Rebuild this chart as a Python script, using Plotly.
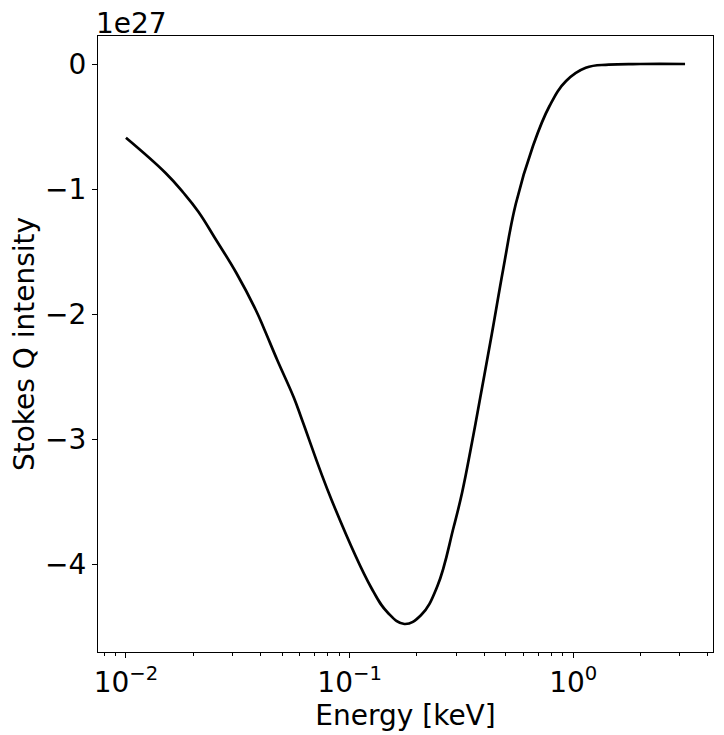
import plotly.graph_objects as go

# Energy in keV
energy_kev = [0.01000, 0.01500, 0.01807, 0.02104, 0.02535, 0.03112, 0.03811,
              0.04150, 0.04753, 0.05636, 0.06138, 0.08318, 0.1250, 0.1483,
              0.1758, 0.2084, 0.2466, 0.2924, 0.3184, 0.3524, 0.3811, 0.4325,
              0.4864, 0.5534, 0.6607, 0.7834, 0.9290, 1.138, 1.442, 1.995, 3.162]
# Stokes Q intensity in units of 1e27
stokes_q_1e27 = [-0.59, -0.87, -1.03, -1.18, -1.41, -1.67, -1.97,
                 -2.12, -2.37, -2.67, -2.85, -3.49, -4.19, -4.39,
                 -4.48, -4.41, -4.18, -3.70, -3.43, -3.03, -2.70, -2.16,
                 -1.64, -1.12, -0.656, -0.336, -0.136, -0.03, -0.005, 0.0, 0.0]
scale_label = "1e27"

x_tickvals = [0.01, 0.1, 1.0]
x_ticktext = ["10<sup>\u22122</sup>", "10<sup>\u22121</sup>", "10<sup>0</sup>"]
x_minor_tickvals = [0.008, 0.009,
                    0.02, 0.03, 0.04, 0.05, 0.06, 0.07, 0.08, 0.09,
                    0.2, 0.3, 0.4, 0.5, 0.6, 0.7, 0.8, 0.9,
                    2, 3, 4]
y_tickvals = [0, -1, -2, -3, -4]
y_ticktext = ["0", "\u22121", "\u22122", "\u22123", "\u22124"]

FONT = "DejaVu Sans"
FS = 28

fig = go.Figure()
fig.add_trace(go.Scatter(
    x=energy_kev, y=stokes_q_1e27, mode="lines",
    line=dict(color="black", width=2.7, shape="spline", smoothing=1.2),
    showlegend=False,
))

fig.update_layout(
    width=716, height=727,
    margin=dict(l=87, r=10, t=28, b=83),
    paper_bgcolor="white", plot_bgcolor="white",
    font=dict(family=FONT, size=FS, color="black"),
)
fig.update_xaxes(
    type="log", range=[-2.125, 0.625],
    tickvals=x_tickvals, ticktext=x_ticktext,
    ticks="outside", ticklen=5, tickwidth=1, tickcolor="black",
    minor=dict(tickvals=x_minor_tickvals, ticks="outside", ticklen=3,
               tickwidth=0.8, tickcolor="black", showgrid=False),
    showline=True, linecolor="black", linewidth=1, mirror=True,
    showgrid=False, zeroline=False,
    tickfont=dict(size=FS, family=FONT),
    title=dict(text="Energy [keV]", font=dict(size=FS, family=FONT), standoff=4),
)
fig.update_yaxes(
    range=[-4.704, 0.224],
    tickvals=y_tickvals, ticktext=y_ticktext,
    ticks="outside", ticklen=5, tickwidth=1, tickcolor="black",
    showline=True, linecolor="black", linewidth=1, mirror=True,
    showgrid=False, zeroline=False,
    tickfont=dict(size=FS, family=FONT),
    title=dict(text="Stokes Q intensity", font=dict(size=FS, family=FONT), standoff=8),
)
fig.add_annotation(
    text=scale_label, xref="paper", yref="paper", x=0, y=1,
    xanchor="left", yanchor="bottom", showarrow=False,
    font=dict(size=FS, family=FONT, color="black"), xshift=-4, yshift=-6,
)

fig.write_html("out.html")
